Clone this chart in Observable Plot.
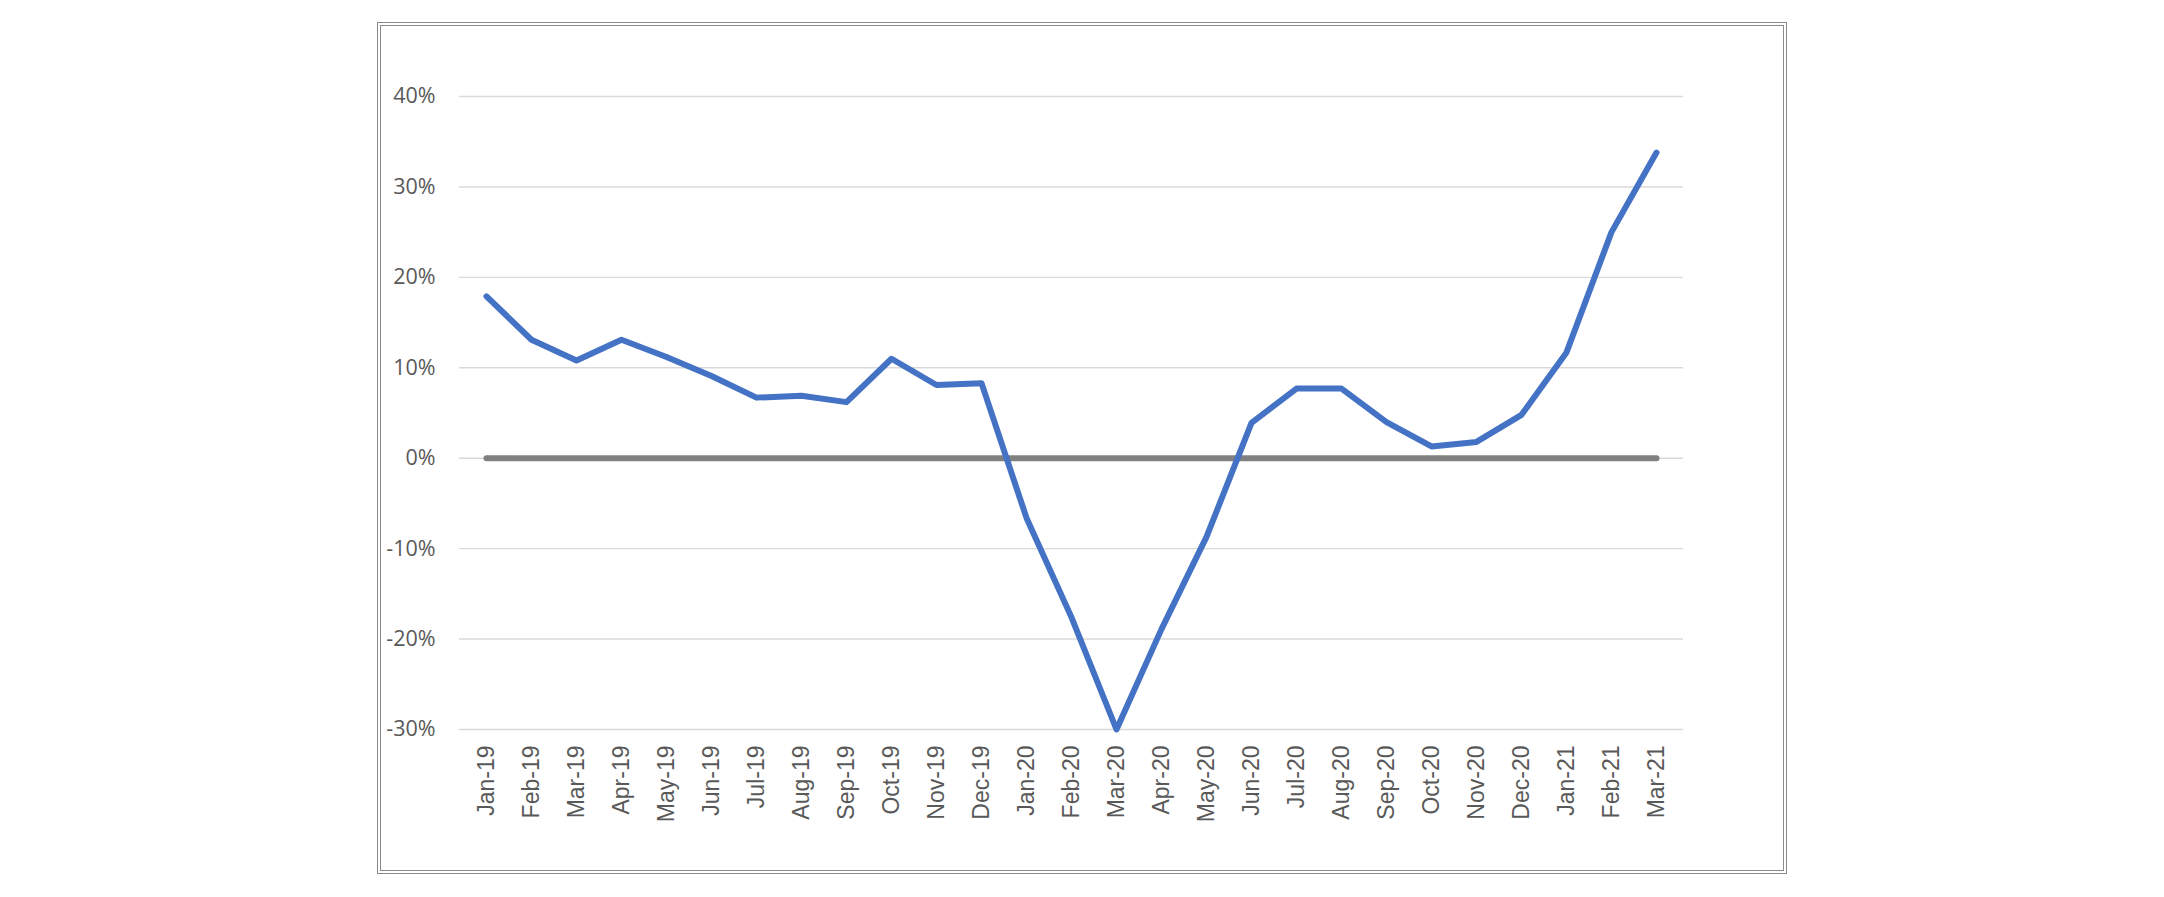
<!DOCTYPE html>
<html>
<head>
<meta charset="utf-8">
<script src="https://cdn.jsdelivr.net/npm/d3@7"></script>
<script src="https://cdn.jsdelivr.net/npm/@observablehq/plot@0.6"></script>
<style>
  html, body { margin: 0; padding: 0; background: #fff; overflow: hidden; }
  #wrap { position: relative; width: 2164px; height: 897px; }
  #wrap svg { position: absolute; left: 0; top: 0; }
  #frame { position: absolute; left: 377px; top: 22px; width: 1410px; height: 852px;
           box-sizing: border-box; border: 4px double #8a8a8a; pointer-events: none; }
</style>
</head>
<body>
<div id="wrap"><div id="frame"></div></div>
<script>
const months = ["Jan-19","Feb-19","Mar-19","Apr-19","May-19","Jun-19","Jul-19","Aug-19","Sep-19","Oct-19","Nov-19","Dec-19",
                "Jan-20","Feb-20","Mar-20","Apr-20","May-20","Jun-20","Jul-20","Aug-20","Sep-20","Oct-20","Nov-20","Dec-20",
                "Jan-21","Feb-21","Mar-21"];
const growth = [17.9, 13.1, 10.8, 13.1, 11.2, 9.1, 6.7, 6.9, 6.2, 11.0, 8.1, 8.3,
                -6.6, -17.6, -30.0, -18.9, -8.7, 3.9, 7.7, 7.7, 4.0, 1.3, 1.8, 4.8,
                11.7, 25.0, 33.8];
const baseline = months.map(() => 0);
const yTicks = [-30, -20, -10, 0, 10, 20, 30, 40];

const series = months.map((m, i) => ({month: m, value: growth[i], zero: baseline[i]}));

const chart = Plot.plot({
  width: 2164,
  height: 897,
  marginLeft: 459,
  marginRight: 481,
  marginTop: 96,
  marginBottom: 168,
  style: {background: "transparent", overflow: "visible"},
  x: {type: "point", domain: months, padding: 0.5},
  y: {domain: [-30, 40]},
  marks: [
    Plot.gridY(yTicks, {stroke: "#d9d9d9", strokeOpacity: 1, strokeWidth: 1.4}),
    Plot.axisY(yTicks, {tickSize: 0, tickPadding: 24, tickFormat: d => d + "%",
      fontSize: 21.5, fontFamily: "Open Sans", fill: "#595959", label: null}),
    Plot.axisX({tickSize: 0, tickPadding: 16, tickRotate: -90, fontSize: 23,
      fontFamily: "Liberation Sans", fill: "#595959", label: null}),
    Plot.line(series, {x: "month", y: "zero", stroke: "#808080", strokeWidth: 6,
      strokeLinecap: "round"}),
    Plot.line(series, {x: "month", y: "value", stroke: "#4472C4", strokeWidth: 6,
      strokeLinejoin: "round", strokeLinecap: "round"})
  ]
});
document.getElementById("wrap").prepend(chart);
</script>
</body>
</html>
